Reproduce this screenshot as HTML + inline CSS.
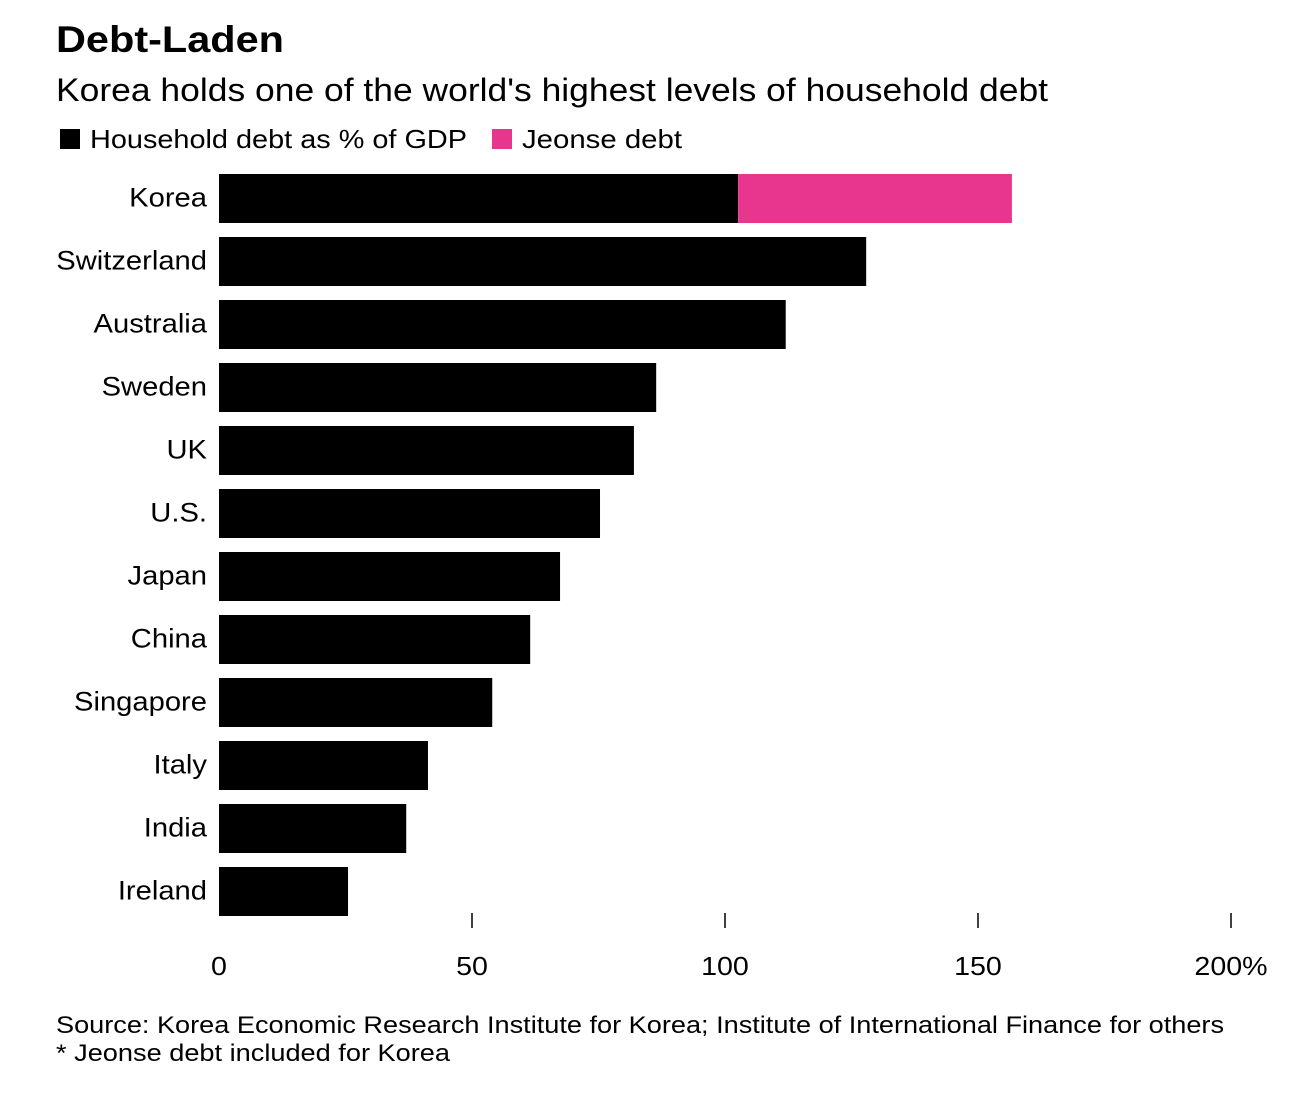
<!DOCTYPE html>
<html><head><meta charset="utf-8"><style>
body{margin:0;background:#fff;font-family:"Liberation Sans",Arial,sans-serif;}
svg text{font-family:"Liberation Sans",Arial,sans-serif;}
</style></head><body>
<svg width="1313" height="1099" xmlns="http://www.w3.org/2000/svg" id="chart">
<text x="56" y="52" font-size="37" font-weight="bold" fill="#000" textLength="228" lengthAdjust="spacingAndGlyphs">Debt-Laden</text>
<text x="56" y="101" font-size="32" fill="#000" textLength="992" lengthAdjust="spacingAndGlyphs">Korea holds one of the world's highest levels of household debt</text>
<g>
<rect x="60" y="129" width="20" height="20" fill="#000"/>
<text x="90" y="148" font-size="26" textLength="377" lengthAdjust="spacingAndGlyphs">Household debt as % of GDP</text>
<rect x="492" y="129" width="20" height="20" fill="#e8368f"/>
<text x="522" y="148" font-size="26" textLength="160" lengthAdjust="spacingAndGlyphs">Jeonse debt</text>
</g>
<g id="bars"></g>
<g id="axis"></g>
<text x="56" y="1033" font-size="24" textLength="1168" lengthAdjust="spacingAndGlyphs">Source: Korea Economic Research Institute for Korea; Institute of International Finance for others</text>
<text x="56" y="1061" font-size="24" textLength="394" lengthAdjust="spacingAndGlyphs">* Jeonse debt included for Korea</text>
</svg>
<script>
const categories=["Korea","Switzerland","Australia","Sweden","UK","U.S.","Japan","China","Singapore","Italy","India","Ireland"];
const householdDebt=[102.6,127.9,112,86.4,82,75.3,67.4,61.5,54,41.3,37,25.5];
const jeonseDebt=[54.1,0,0,0,0,0,0,0,0,0,0,0];
const ticks=[0,50,100,150,200];
const tickLabels=["0","50","100","150","200%"];
const NS="http://www.w3.org/2000/svg";
const x0=219,x1=1231,xMax=200;
function xs(v){return x0+(v/xMax)*(x1-x0);}
function yb(i){return 174+i*63;}
const bh=49;
const bars=document.getElementById('bars');
function mk(t,a){const e=document.createElementNS(NS,t);for(const k in a)e.setAttribute(k,a[k]);return e;}
function stretch(t,f){const w=t.getComputedTextLength();t.setAttribute('textLength',w*f);t.setAttribute('lengthAdjust','spacingAndGlyphs');}
categories.forEach((c,i)=>{
 const r=mk('rect',{x:xs(0),y:yb(i),width:xs(householdDebt[i])-xs(0),height:bh,fill:'#000'});
 
 
 bars.appendChild(r);
 if(jeonseDebt[i]>0){
  const p=mk('rect',{x:xs(householdDebt[i]),y:yb(i),width:xs(householdDebt[i]+jeonseDebt[i])-xs(householdDebt[i]),height:bh,fill:'#e8368f'});
  
  
  bars.appendChild(p);
 }
 const t=mk('text',{x:207,y:yb(i)+bh/2+8,'font-size':27,'text-anchor':'end'});
 t.textContent=c;
 
 
 bars.appendChild(t);
 stretch(t,1.08);
});
const ax=document.getElementById('axis');
ticks.forEach((v,i)=>{
 if(v>0){const l=mk('line',{x1:xs(v),x2:xs(v),y1:913,y2:928,stroke:'#000','stroke-width':1.5});
 
 
 ax.appendChild(l);}
 const t=mk('text',{x:xs(v),y:975,'font-size':26,'text-anchor':'middle'});
 t.textContent=tickLabels[i];
 
 
 ax.appendChild(t);
 stretch(t,1.1);
});
</script>
</body></html>
